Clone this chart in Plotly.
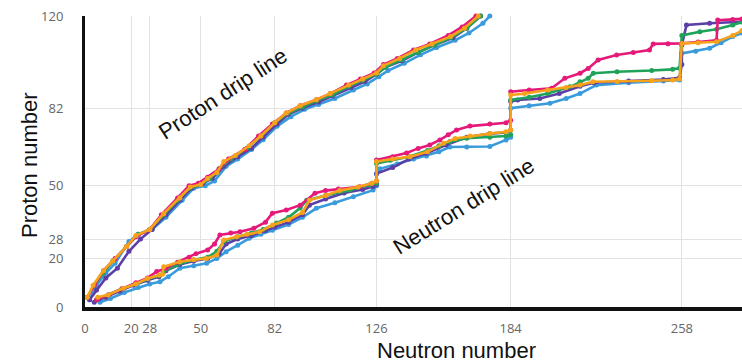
import plotly.graph_objects as go

# ---------------- data ----------------
x_ticks = [0, 20, 28, 50, 82, 126, 184, 258]
y_ticks = [0, 20, 28, 50, 82, 120]

models = ["Blue", "Purple", "Green", "Magenta", "Orange"]
colors = {"Blue": "#3a9bdc", "Purple": "#5b3fa6", "Green": "#1fa35b",
          "Magenta": "#e5197a", "Orange": "#f7a21b"}

# Proton drip lines
proton_n_blue = [2, 5, 9, 13, 19, 23, 29, 35, 42, 47, 52, 56, 61, 66, 72, 77, 83, 89, 95, 101, 108, 116, 122, 127, 131, 138, 145, 152, 160, 166, 172, 175]
proton_z_blue = [3, 9, 14, 18, 27, 30, 32, 37, 44, 49, 50, 52, 58, 61, 65, 69, 74.5, 78.5, 81.5, 83.5, 86, 89.5, 92, 95, 97.5, 100.5, 104, 107, 110, 113, 117, 120]

proton_n_purple = [2, 5, 9, 14, 19, 24, 29, 35, 41, 46, 51, 55, 60, 66, 72, 77, 83, 88, 94, 101, 107, 115, 121, 126, 130, 137, 144, 151, 159, 165, 171]
proton_z_purple = [3, 7, 12, 16, 23, 28, 32, 38, 44, 49, 51, 53, 58, 62, 65.5, 70, 75.5, 79.5, 82, 84.5, 87, 90.5, 93, 96, 99, 101.5, 105, 108, 111, 115, 120]

proton_n_green = [1, 4, 8, 12, 18, 23, 28, 34, 40, 45, 50, 54, 58, 63, 70, 76, 82, 88, 94, 100, 107, 114, 120, 126, 130, 137, 144, 151, 158, 165, 171]
proton_z_green = [4, 9, 14, 19, 25, 30, 32, 38, 44, 49, 50.5, 53, 57, 61, 65.5, 70.5, 76, 80, 82.5, 85, 87.5, 91, 93.5, 96, 99, 102, 105, 108, 111, 115, 120]

proton_n_magenta = [1, 4, 8, 13, 18, 22, 28, 33, 40, 45, 49, 53, 58, 62, 69, 75, 81, 87, 93, 100, 106, 113, 119, 125, 129, 135, 142, 149, 157, 163, 169]
proton_z_magenta = [4, 9, 15, 20, 25, 29, 32, 38, 45, 50, 51, 53.5, 57, 61, 65, 70.5, 75.5, 80, 83, 85.5, 88, 91.5, 94, 96.5, 100, 102.5, 106, 108.5, 112, 115.5, 120]

proton_n_orange = [1, 3.5, 8, 12, 18, 22, 28, 34, 41, 45.5, 50, 53, 57, 60, 65, 71, 76, 82, 87, 93, 100, 106, 114, 120, 126, 129, 136, 143, 150, 158, 164, 170]
proton_z_orange = [4, 9, 15, 19, 25, 29.5, 32, 38.5, 45, 49.5, 50.5, 53, 55.5, 60, 62.5, 66.5, 70.5, 76, 80, 83, 85.5, 88, 91.5, 94, 96.5, 99.5, 102.5, 106, 108.5, 111.5, 115, 120]

# Neutron drip lines
neutron_n_blue = [6.5, 11, 17, 23, 28, 32.4, 36, 41, 47, 52.6, 57, 61, 66, 71, 76, 81, 88, 94, 100, 108, 116, 124.5, 126, 126, 127.5, 135, 142, 147.6, 153, 157.7, 165, 175, 182, 184, 184, 192, 201, 208, 214, 221, 235, 250, 257, 258, 264, 270, 275, 280, 284]
neutron_z_blue = [2, 3.5, 6, 8, 9.5, 10.4, 12.5, 16, 17, 18, 20, 22.8, 25.5, 28.3, 30, 31.7, 34, 37, 40.7, 43, 45.5, 48.2, 50, 55, 57, 59, 61, 62.3, 64, 66, 66, 66.2, 68.9, 70, 82, 83, 84, 86, 88, 91.5, 92.5, 93.2, 93.6, 104.6, 105.5, 106.7, 109, 111.5, 113]

neutron_n_purple = [4, 9, 15, 21, 27, 32, 35, 41, 47, 53, 58, 61, 66, 72, 78, 82, 88, 94, 97, 104, 112, 120, 124.5, 126, 126, 133, 140, 147.6, 156, 165, 175, 182, 184, 184, 187, 196.6, 205, 214, 220, 235, 250, 257, 258, 258, 260, 270, 284]
neutron_z_purple = [2, 4, 6.5, 9, 11, 12.5, 15, 17.5, 19, 20, 22, 26, 28, 29.5, 31.5, 33, 35, 38, 42, 44.5, 47, 48.5, 49.7, 50.5, 55, 57.5, 61, 63.4, 66.8, 70, 71.5, 72, 73, 84.7, 85.4, 86, 88, 91, 92.5, 93.2, 93.8, 94.5, 100, 108, 116.3, 117, 117.6]

neutron_n_green = [5, 10, 16, 22, 27, 32, 34, 40, 47, 53, 57, 60, 66, 72, 77, 82.8, 88, 93, 95.8, 104, 114.5, 123, 126, 126, 132, 140, 148, 153, 157.7, 165, 175, 182, 184, 184, 192, 200, 209.6, 214, 217.5, 219.7, 230, 245, 254, 257, 258, 265.8, 273, 280, 284]
neutron_z_green = [3, 5, 7.5, 9.5, 11.5, 13, 14.5, 17.5, 19.5, 20.5, 23, 27, 29, 30.5, 32, 34.6, 37, 40.8, 44, 46, 48.2, 50.3, 51, 59.2, 60.5, 62, 64.5, 66.5, 68.2, 69.6, 70, 70.5, 71, 85.4, 86.5, 88, 90.8, 92.9, 94.3, 96.4, 97, 97.5, 98, 98.5, 112, 113.5, 114.5, 116.3, 117.5]

neutron_n_magenta = [5, 10, 16, 22, 27, 31, 35, 40, 45, 48, 53, 56, 58.3, 63, 67, 73, 78, 81, 87, 93, 99.4, 104, 109.5, 118.8, 124, 126, 126, 133, 139, 144, 149, 153.4, 157, 160.6, 166.4, 175, 182, 184, 184, 192, 201.7, 207.4, 214, 217.5, 221.8, 229.8, 237, 244, 245.6, 252, 257.9, 265, 273, 273.5, 280, 284]
neutron_z_magenta = [3, 5, 7.5, 10, 12, 14.6, 16, 18.5, 20.5, 22, 23.5, 26, 29.7, 30.5, 31, 32.5, 35, 38.7, 40, 42, 46.9, 48, 48.7, 49.6, 51, 52, 60.6, 62, 63.5, 65.4, 66.8, 68.9, 71, 73, 74.6, 75.5, 76, 77, 88.8, 89.5, 90.2, 94.3, 96.4, 98.4, 101.9, 103.9, 105, 106, 108.5, 108.6, 108.7, 109.3, 110, 118.3, 118.6, 118.8]

neutron_n_orange = [5.5, 10, 16.5, 22, 27, 32, 33.5, 34, 41, 47, 52.5, 57, 60, 65.5, 70, 75.5, 81, 88, 94, 97, 104, 110, 118, 124, 126, 126, 133, 140.5, 148, 155, 160, 166.5, 175, 182, 184, 184, 190, 200, 208, 214, 219.5, 230, 245, 254, 257, 258, 265, 273, 280, 284]
neutron_z_orange = [4, 5, 7.7, 9.5, 11.8, 13.2, 13.5, 16.6, 18.7, 19.5, 20, 21.4, 27.6, 29, 30, 31, 33.8, 36, 39, 44, 46, 48, 49.5, 51, 52, 60, 61, 62, 64, 67.5, 69.5, 70.5, 71.5, 72.3, 73, 87.4, 88, 89.5, 90.5, 91.5, 92.9, 93, 93.3, 93.6, 94, 108.7, 109, 109.4, 112, 114]

proton = {
    "Blue": (proton_n_blue, proton_z_blue),
    "Purple": (proton_n_purple, proton_z_purple),
    "Green": (proton_n_green, proton_z_green),
    "Magenta": (proton_n_magenta, proton_z_magenta),
    "Orange": (proton_n_orange, proton_z_orange),
}
neutron = {
    "Blue": (neutron_n_blue, neutron_z_blue),
    "Purple": (neutron_n_purple, neutron_z_purple),
    "Green": (neutron_n_green, neutron_z_green),
    "Magenta": (neutron_n_magenta, neutron_z_magenta),
    "Orange": (neutron_n_orange, neutron_z_orange),
}

# ---------------- figure ----------------
fig = go.Figure()
for m in models:
    for kind, dset in (("neutron", neutron), ("proton", proton)):
        xs, ys = dset[m]
        fig.add_trace(go.Scatter(
            x=xs, y=ys, mode="lines+markers", name=f"{m} {kind}",
            line=dict(color=colors[m], width=2.6),
            marker=dict(color=colors[m], size=5),
            showlegend=False, cliponaxis=False,
        ))

tick_font = dict(family="Open Sans", size=13, color="#666666")

fig.update_layout(
    width=742, height=362,
    margin=dict(l=85, r=0, t=16, b=55),
    paper_bgcolor="white", plot_bgcolor="white",
    showlegend=False,
    xaxis=dict(range=[0, 284], tickvals=x_ticks, ticktext=[str(v) for v in x_ticks],
               showgrid=True, gridcolor="#e2e2e2", gridwidth=1, zeroline=False,
               showline=True, linecolor="#111111", linewidth=4,
               ticks="", ticklabelstandoff=6, tickfont=tick_font),
    yaxis=dict(range=[0, 120], tickvals=y_ticks, ticktext=[str(v) for v in y_ticks],
               showgrid=True, gridcolor="#e2e2e2", gridwidth=1, zeroline=False,
               showline=True, linecolor="#111111", linewidth=3,
               ticks="", ticklabelstandoff=16, tickfont=tick_font),
    annotations=[
        dict(text="Neutron number", xref="paper", yref="paper", x=0.566, y=-0.148,
             xanchor="center", yanchor="middle", showarrow=False,
             font=dict(family="Liberation Sans", size=22, color="#111111")),
        dict(text="Proton number", xref="paper", yref="paper", x=-0.0837, y=0.488,
             xanchor="center", yanchor="middle", showarrow=False, textangle=-90,
             font=dict(family="Liberation Sans", size=22, color="#111111")),
        dict(text="Proton drip line", x=59.8, y=88, xref="x", yref="y",
             xanchor="center", yanchor="middle", showarrow=False, textangle=-33,
             font=dict(family="Liberation Sans", size=22, color="#111111")),
        dict(text="Neutron drip line", x=163.4, y=41.6, xref="x", yref="y",
             xanchor="center", yanchor="middle", showarrow=False, textangle=-32,
             font=dict(family="Liberation Sans", size=22, color="#111111")),
    ],
)

fig.write_html("out.html", config={"displayModeBar": False},
               post_script="document.body.style.margin='0';document.body.style.padding='0';")
